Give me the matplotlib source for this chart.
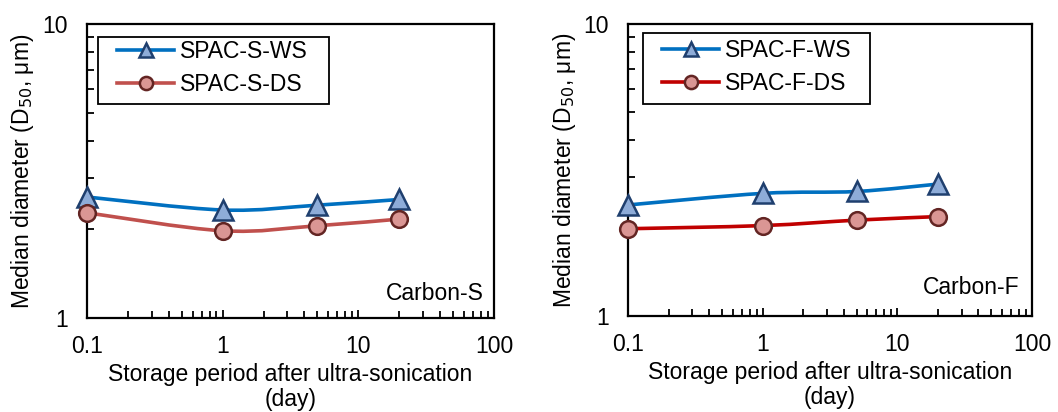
import numpy as np
import matplotlib
matplotlib.use("Agg")
import matplotlib.pyplot as plt
from matplotlib.path import Path
from matplotlib.patches import PathPatch, Rectangle
from matplotlib.ticker import LogLocator, NullFormatter, FixedLocator, FixedFormatter

plt.rcParams['font.family'] = ['Liberation Sans', 'DejaVu Sans']

days = [0.1, 1, 5, 20]
s_ws = [2.58, 2.33, 2.42, 2.53]
s_ds = [2.28, 1.98, 2.06, 2.17]
f_ws = [2.40, 2.63, 2.67, 2.83]
f_ds = [1.99, 2.04, 2.13, 2.19]

labels_s = ["SPAC-S-WS", "SPAC-S-DS"]
labels_f = ["SPAC-F-WS", "SPAC-F-DS"]
panel_names = ["Carbon-S", "Carbon-F"]
xticks = [0.1, 1, 10, 100]
xticklabels = ["0.1", "1", "10", "100"]
yticks = [1, 10]
yticklabels = ["1", "10"]

BLUE = "#0070C0"
BLUE_FILL = "#8EACD8"
BLUE_EDGE = "#1F3F6E"
RED_S = "#C0504D"
RED_F = "#C00000"
RED_FILL = "#DA9694"
RED_EDGE = "#632523"

FS = 16.5
W, H = 1058, 412


def smooth_path(x, y):
    """Excel-style smoothed line (Catmull-Rom Bezier in log-log space)."""
    lx = np.log10(x)
    ly = np.log10(y)
    n = len(lx)
    verts = [(lx[0], ly[0])]
    codes = [Path.MOVETO]
    for i in range(n - 1):
        p0 = np.array([lx[max(i - 1, 0)], ly[max(i - 1, 0)]])
        p1 = np.array([lx[i], ly[i]])
        p2 = np.array([lx[i + 1], ly[i + 1]])
        p3 = np.array([lx[min(i + 2, n - 1)], ly[min(i + 2, n - 1)]])
        c1 = p1 + (p2 - p0) / 6.0
        c2 = p2 - (p3 - p1) / 6.0
        verts += [tuple(c1), tuple(c2), tuple(p2)]
        codes += [Path.CURVE4] * 3
    verts = [(10 ** a, 10 ** b) for a, b in verts]
    return Path(verts, codes)


def draw_series(ax, x, y, color, marker, mfc, mec, ms, lms, label):
    patch = PathPatch(smooth_path(x, y), facecolor="none", edgecolor=color,
                      lw=2.6, zorder=2, capstyle="round")
    ax.add_patch(patch)
    ax.plot(x, y, linestyle="none", marker=marker, ms=ms, mfc=mfc, mec=mec,
            mew=1.8, zorder=3, clip_on=False)
    # legend proxy
    ax.plot([], [], color=color, lw=2.6, marker=marker, ms=lms, mfc=mfc,
            mec=mec, mew=1.8, label=label)


fig = plt.figure(figsize=(W / 100, H / 100), dpi=100)
axes_rects = [
    [87 / W, 1 - 318 / H, (494 - 87) / W, (318 - 24) / H],
    [628 / W, 1 - 316 / H, (1032 - 628) / W, (316 - 24) / H],
]
data = [(s_ws, s_ds, labels_s, RED_S), (f_ws, f_ds, labels_f, RED_F)]
# legend frame boxes (pixels: x0, y0, x1, y1) and handle anchor
leg_box = [(98, 37, 329, 104), (643, 33, 870, 104)]
leg_anchor = [(117, 40), (662, 39)]
text_pos = [(484, 293), (1020, 288)]

for k, rect in enumerate(axes_rects):
    ax = fig.add_axes(rect)
    ws, ds, labs, red = data[k]
    ax.set_xscale("log")
    ax.set_yscale("log")
    ax.set_xlim(0.1, 100)
    ax.set_ylim(1, 10)
    draw_series(ax, days, ws, BLUE, "^", BLUE_FILL, BLUE_EDGE, 14, 10, labs[0])
    draw_series(ax, days, ds, red, "o", RED_FILL, RED_EDGE, 12, 9.5, labs[1])

    ax.xaxis.set_major_locator(FixedLocator(xticks))
    ax.xaxis.set_major_formatter(FixedFormatter(xticklabels))
    ax.yaxis.set_major_locator(FixedLocator(yticks))
    ax.yaxis.set_major_formatter(FixedFormatter(yticklabels))
    ax.xaxis.set_minor_locator(LogLocator(base=10, subs=np.arange(2, 10)))
    ax.yaxis.set_minor_locator(LogLocator(base=10, subs=np.arange(2, 10)))
    ax.xaxis.set_minor_formatter(NullFormatter())
    ax.yaxis.set_minor_formatter(NullFormatter())
    ax.tick_params(which="both", direction="in", width=1.3, labelsize=FS,
                   top=False, right=False, color="black")
    ax.tick_params(which="major", length=6)
    ax.tick_params(which="minor", length=5)
    ax.tick_params(axis="x", which="major", pad=12)
    ax.tick_params(axis="y", which="major", pad=14)
    for sp in ax.spines.values():
        sp.set_linewidth(1.6)
        sp.set_color("black")

    ax.set_xlabel("Storage period after ultra-sonication\n(day)", fontsize=FS,
                  linespacing=1.1, labelpad=4)
    ax.set_ylabel("Median diameter (D$_{50}$, μm)", fontsize=FS, labelpad=4)
    tx, ty = text_pos[k]
    ax.text(tx / W, 1 - ty / H, panel_names[k], transform=fig.transFigure,
            ha="right", va="center", fontsize=FS)

    x0, y0, x1, y1 = leg_box[k]
    ax.add_patch(Rectangle((x0 / W, 1 - y1 / H), (x1 - x0) / W, (y1 - y0) / H,
                           transform=fig.transFigure, facecolor="white",
                           edgecolor="black", lw=1.3, zorder=5, clip_on=False))
    lx, ly = leg_anchor[k]
    leg = ax.legend(loc="upper left", bbox_to_anchor=(lx / W, 1 - ly / H),
                    bbox_transform=fig.transFigure,
                    fontsize=FS, frameon=False, handlelength=2.5,
                    borderpad=0.0, labelspacing=0.45, handletextpad=0.25,
                    borderaxespad=0.0)
    leg.set_zorder(6)

fig.savefig("out.png", dpi=100)
